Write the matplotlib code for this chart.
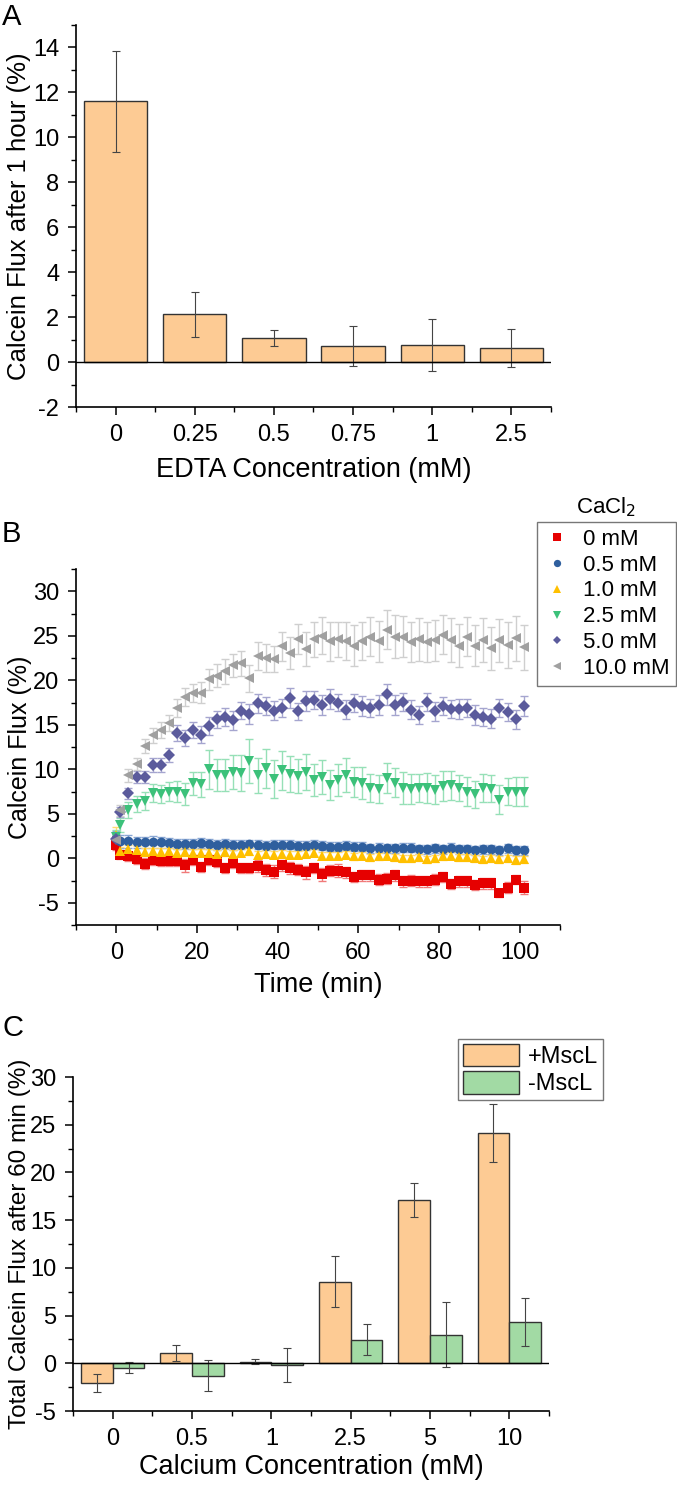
import matplotlib
matplotlib.use("Agg")
import matplotlib.pyplot as plt
from matplotlib.ticker import MultipleLocator

plt.rcParams['font.family'] = ['Liberation Sans', 'DejaVu Sans']
plt.rcParams['axes.unicode_minus'] = False

# ---- Panel A data ----
edta_labels = ['0', '0.25', '0.5', '0.75', '1', '2.5']
edta_flux = [11.6, 2.12, 1.07, 0.72, 0.77, 0.63]
edta_err = [2.25, 1.0, 0.35, 0.9, 1.15, 0.85]

# ---- Panel B data ----
time_min = [0, 1, 3, 5, 7, 9, 11, 13, 15, 17,
            19, 21, 23, 25, 27, 29, 31, 33, 35, 37,
            39, 41, 43, 45, 47, 49, 51, 53, 55, 57,
            59, 61, 63, 65, 67, 69, 71, 73, 75, 77,
            79, 81, 83, 85, 87, 89, 91, 93, 95, 97,
            99, 101]

ca_0 = [1.5, 0.4, 0.2, -0.1, -0.6, -0.2, -0.3, -0.3, -0.3, -0.8,
        -0.2, -1.0, -0.2, -0.4, -1.1, -0.5, -1.1, -1.1, -0.9, -1.3,
        -1.5, -0.8, -1.1, -1.3, -1.6, -1.1, -1.8, -1.4, -1.4, -1.6,
        -2.1, -1.9, -1.9, -2.4, -2.3, -1.9, -2.6, -2.5, -2.6, -2.6,
        -2.4, -2.1, -2.9, -2.6, -2.6, -3.0, -2.8, -2.8, -3.9, -3.3,
        -2.4, -3.3]
ca_0_err = [0.6, 0.5, 0.5, 0.5, 0.6, 0.6, 0.6, 0.6, 0.6, 0.7,
            0.6, 0.6, 0.6, 0.6, 0.6, 0.6, 0.6, 0.6, 0.7, 0.7,
            0.7, 0.6, 0.7, 0.6, 0.7, 0.6, 0.7, 0.6, 0.7, 0.6,
            0.6, 0.6, 0.6, 0.6, 0.6, 0.6, 0.6, 0.6, 0.6, 0.6,
            0.6, 0.6, 0.6, 0.6, 0.6, 0.6, 0.6, 0.6, 0.5, 0.6,
            0.5, 0.7]

ca_05 = [2.3, 1.9, 1.9, 1.8, 1.8, 1.8, 1.8, 1.7, 1.6, 1.6,
         1.6, 1.7, 1.6, 1.5, 1.6, 1.5, 1.5, 1.6, 1.5, 1.4,
         1.5, 1.5, 1.5, 1.4, 1.4, 1.5, 1.4, 1.3, 1.3, 1.4,
         1.3, 1.3, 1.1, 1.2, 1.1, 1.1, 1.2, 1.2, 1.0, 1.0,
         1.1, 1.0, 1.2, 1.0, 1.0, 0.9, 1.0, 1.0, 0.9, 1.1,
         0.9, 0.9]
ca_05_err = [0.8, 0.7, 0.7, 0.6, 0.6, 0.7, 0.6, 0.6, 0.6, 0.6,
             0.6, 0.6, 0.6, 0.6, 0.6, 0.6, 0.5, 0.5, 0.5, 0.5,
             0.5, 0.5, 0.5, 0.5, 0.5, 0.5, 0.5, 0.5, 0.5, 0.5,
             0.5, 0.5, 0.5, 0.5, 0.5, 0.5, 0.5, 0.5, 0.5, 0.5,
             0.5, 0.5, 0.5, 0.5, 0.5, 0.5, 0.5, 0.5, 0.5, 0.5,
             0.5, 0.5]

ca_1 = [2.6, 0.8, 1.0, 0.9, 0.7, 0.8, 0.7, 0.8, 0.6, 0.7,
        0.6, 0.6, 0.6, 0.5, 0.7, 0.5, 0.6, 0.8, 0.4, 0.5,
        0.4, 0.5, 0.4, 0.4, 0.5, 0.6, 0.3, 0.3, 0.3, 0.4,
        0.2, 0.3, 0.1, 0.2, 0.3, 0.1, 0.0, 0.0, 0.1, -0.1,
        0.0, 0.2, 0.3, 0.1, 0.1, 0.0, -0.1, 0.0, -0.1, 0.0,
        -0.2, -0.1]
ca_1_err = [0.9, 0.5, 0.5, 0.5, 0.4, 0.4, 0.4, 0.4, 0.4, 0.4,
            0.4, 0.4, 0.4, 0.4, 0.4, 0.4, 0.4, 0.4, 0.4, 0.4,
            0.4, 0.4, 0.4, 0.4, 0.4, 0.4, 0.4, 0.4, 0.4, 0.4,
            0.4, 0.4, 0.4, 0.4, 0.4, 0.4, 0.4, 0.4, 0.4, 0.4,
            0.4, 0.4, 0.4, 0.4, 0.4, 0.4, 0.4, 0.4, 0.4, 0.4,
            0.4, 0.4]

ca_25 = [2.4, 3.7, 5.4, 6.1, 6.4, 7.3, 7.2, 7.5, 7.5, 7.2,
         8.4, 8.3, 10.0, 9.4, 9.4, 9.7, 9.6, 10.9, 9.3, 10.1,
         8.9, 9.9, 9.5, 9.2, 9.7, 8.8, 9.1, 8.2, 8.8, 9.4,
         8.6, 8.5, 7.9, 7.8, 9.0, 8.5, 7.9, 7.8, 7.9, 7.9,
         7.7, 8.1, 8.2, 7.9, 7.5, 7.2, 7.9, 7.8, 6.6, 7.5,
         7.5, 7.5]
ca_25_err = [0.8, 0.8, 0.9, 0.9, 1.0, 1.0, 1.0, 1.1, 1.2, 1.2,
             1.3, 1.4, 2.2, 1.8, 1.8, 1.9, 2.0, 2.5, 2.0, 2.2,
             2.1, 2.2, 2.0, 1.9, 2.0, 1.8, 1.9, 1.7, 1.8, 1.9,
             1.7, 1.8, 1.6, 1.6, 1.7, 1.6, 1.8, 1.7, 1.6, 1.7,
             1.6, 1.7, 1.6, 1.5, 1.6, 1.5, 1.6, 1.5, 1.6, 1.5,
             1.6, 1.6]

ca_5 = [2.2, 5.2, 7.3, 9.1, 9.1, 10.5, 10.5, 11.6, 14.1, 13.5,
        14.4, 13.9, 14.9, 15.6, 15.9, 15.5, 16.6, 16.2, 17.4, 17.1,
        16.6, 16.9, 18.0, 16.5, 17.7, 17.8, 17.2, 17.9, 17.5, 16.7,
        17.4, 17.1, 16.9, 17.2, 18.4, 17.2, 17.6, 16.7, 16.1, 17.6,
        16.5, 17.1, 16.8, 16.8, 16.9, 16.1, 15.9, 15.7, 16.9, 16.4,
        15.6, 17.1]
ca_5_err = [0.5, 0.6, 0.6, 0.7, 0.7, 0.8, 0.8, 0.8, 0.9, 0.9,
            0.9, 1.0, 1.0, 1.0, 1.0, 1.1, 1.0, 1.1, 1.1, 1.0,
            1.1, 1.0, 1.1, 1.0, 1.1, 1.0, 1.1, 1.1, 1.0, 1.1,
            1.0, 1.1, 1.0, 1.1, 1.2, 1.1, 1.0, 1.1, 1.0, 1.0,
            1.1, 1.0, 1.0, 1.1, 1.0, 1.1, 1.0, 1.1, 1.0, 1.0,
            1.1, 1.1]

ca_10 = [2.0, 5.4, 9.3, 10.6, 12.6, 13.8, 14.4, 15.2, 16.9, 18.1,
         18.6, 18.6, 20.1, 20.5, 21.0, 21.7, 21.9, 20.2, 22.7, 22.5,
         22.4, 23.8, 23.1, 24.6, 23.5, 24.6, 25.0, 24.4, 24.6, 24.4,
         23.9, 24.4, 24.9, 24.4, 25.7, 24.9, 24.9, 24.3, 24.6, 24.3,
         24.5, 25.1, 24.5, 23.9, 24.9, 23.9, 24.5, 23.6, 24.5, 24.0,
         24.7, 23.7]
ca_10_err = [0.5, 0.6, 0.7, 0.7, 0.8, 0.8, 0.9, 0.9, 1.0, 1.0,
             1.0, 1.2, 1.2, 1.3, 1.4, 1.3, 1.4, 1.5, 1.6, 1.6,
             1.5, 1.6, 1.8, 1.7, 1.9, 2.0, 2.1, 2.2, 2.0, 2.1,
             2.3, 2.1, 2.2, 2.3, 2.2, 2.4, 2.3, 2.2, 2.4, 2.3,
             2.3, 2.2, 2.5, 2.4, 2.2, 2.3, 2.5, 2.4, 2.4, 2.6,
             2.5, 2.5]

series_labels = ['0 mM', '0.5 mM', '1.0 mM', '2.5 mM', '5.0 mM', '10.0 mM']

# ---- Panel C data ----
ca_labels = ['0', '0.5', '1', '2.5', '5', '10']
plus_mscl = [-2.1, 1.05, 0.18, 8.57, 17.13, 24.1]
plus_mscl_err = [0.95, 0.85, 0.3, 2.67, 1.8, 3.05]
minus_mscl = [-0.45, -1.3, -0.17, 2.48, 3.0, 4.3]
minus_mscl_err = [0.6, 1.6, 1.77, 1.63, 3.4, 2.5]

ORANGE = '#FDCB94'
GREEN = '#A2DAA4'
W, H = 677, 1504

fig = plt.figure(figsize=(6.77, 15.04), dpi=100)


def axes_px(left, top, right, bottom):
    return fig.add_axes([left / W, 1 - bottom / H, (right - left) / W, (bottom - top) / H])


def style(ax):
    for s in ['top', 'right']:
        ax.spines[s].set_visible(False)
    for s in ['left', 'bottom']:
        ax.spines[s].set_linewidth(1.2)
    ax.tick_params(which='major', direction='out', length=6, width=1.1, labelsize=17, pad=6)
    ax.tick_params(which='minor', direction='out', length=3.5, width=1.0)


# Panel A
axA = axes_px(76, 25, 551, 407)
xs = range(len(edta_labels))
axA.bar(xs, edta_flux, width=0.8, color=ORANGE, edgecolor='#333333', linewidth=1.0, zorder=2)
axA.errorbar(xs, edta_flux, yerr=edta_err, fmt='none', ecolor='#444444', elinewidth=0.8,
             capsize=3, capthick=0.8, zorder=3)
axA.axhline(0, color='black', linewidth=1.0, zorder=4)
axA.set_xlim(-0.5, 5.5)
axA.set_ylim(-2, 15)
axA.set_xticks(list(xs))
axA.set_xticklabels(edta_labels)
axA.xaxis.set_minor_locator(MultipleLocator(0.5))
axA.yaxis.set_major_locator(MultipleLocator(2))
axA.yaxis.set_minor_locator(MultipleLocator(1))
style(axA)
axA.set_ylabel('Calcein Flux after 1 hour (%)', fontsize=18.5)
axA.set_xlabel('EDTA Concentration (mM)', fontsize=19.5)
axA.yaxis.set_label_coords(-0.119, 0.5)
axA.yaxis.label.set_va('center')
axA.xaxis.set_label_coords(0.5, -0.165)
axA.xaxis.label.set_va('center')
fig.text(2 / W, 1 - 17 / H, 'A', fontsize=21, va='center', ha='left')

# Panel B
axB = axes_px(76, 569, 560, 925)
series = [
    (ca_0, ca_0_err, 's', '#E60000', '#F07A7A'),
    (ca_05, ca_05_err, 'o', '#2F5F9E', '#89A6D3'),
    (ca_1, ca_1_err, '^', '#FFC000', '#FFDA70'),
    (ca_25, ca_25_err, 'v', '#3CC17A', '#96E0B7'),
    (ca_5, ca_5_err, 'D', '#5B5B9C', '#A5A5CF'),
    (ca_10, ca_10_err, '<', '#A0A0A0', '#CFCFCF'),
]
handles = []
for (vals, errs, mk, col, ecol), lab in zip(series, series_labels):
    ms = 6.0 if mk == 'D' else 7.0
    axB.errorbar(time_min, vals, yerr=errs, fmt='none', ecolor=ecol, elinewidth=1.0,
                 capsize=3, capthick=1.0, zorder=2)
    h, = axB.plot(time_min, vals, linestyle='none', marker=mk, markersize=ms,
                  color=col, markeredgewidth=0, label=lab, zorder=3)
    handles.append(h)
axB.set_xlim(-10, 110)
axB.set_ylim(-7.5, 32.5)
axB.xaxis.set_major_locator(MultipleLocator(20))
axB.xaxis.set_minor_locator(MultipleLocator(10))
axB.yaxis.set_major_locator(MultipleLocator(5))
axB.yaxis.set_minor_locator(MultipleLocator(2.5))
style(axB)
axB.set_ylabel('Calcein Flux (%)', fontsize=18)
axB.set_xlabel('Time (min)', fontsize=19.5)
axB.yaxis.set_label_coords(-0.116, 0.5)
axB.yaxis.label.set_va('center')
axB.xaxis.set_label_coords(0.5, -0.168)
axB.xaxis.label.set_va('center')
fig.text(2 / W, 1 - 534 / H, 'B', fontsize=21, va='center', ha='left')
legB = fig.legend(handles=handles, loc='upper left', bbox_to_anchor=(537 / W, 1 - 522 / H),
                  borderaxespad=0, frameon=True, fancybox=False, edgecolor='#555555',
                  fontsize=16, handletextpad=0.55, labelspacing=0.22, borderpad=0.3,
                  handlelength=1.2, markerscale=0.75)
legB.get_frame().set_linewidth(1.0)
fig.text(606 / W, 1 - 507 / H, 'CaCl$_2$', fontsize=16, ha='center', va='center')

# Panel C
axC = axes_px(73, 1077, 549, 1411)
xc = list(range(len(ca_labels)))
bw = 0.4
xp = [x - bw / 2 for x in xc]
xm = [x + bw / 2 for x in xc]
b1 = axC.bar(xp, plus_mscl, width=bw, color=ORANGE, edgecolor='#333333', linewidth=1.0,
             label='+MscL', zorder=2)
b2 = axC.bar(xm, minus_mscl, width=bw, color=GREEN, edgecolor='#333333', linewidth=1.0,
             label='-MscL', zorder=2)
axC.errorbar(xp, plus_mscl, yerr=plus_mscl_err, fmt='none', ecolor='#444444', elinewidth=0.8,
             capsize=3, capthick=0.8, zorder=3)
axC.errorbar(xm, minus_mscl, yerr=minus_mscl_err, fmt='none', ecolor='#444444', elinewidth=0.8,
             capsize=3, capthick=0.8, zorder=3)
axC.axhline(0, color='black', linewidth=1.0, zorder=4)
axC.set_xlim(-0.5, 5.5)
axC.set_ylim(-5, 30)
axC.set_xticks(xc)
axC.set_xticklabels(ca_labels)
axC.xaxis.set_minor_locator(MultipleLocator(0.5))
axC.yaxis.set_major_locator(MultipleLocator(5))
axC.yaxis.set_minor_locator(MultipleLocator(2.5))
style(axC)
axC.set_ylabel('Total Calcein Flux after 60 min (%)', fontsize=17.5)
axC.set_xlabel('Calcium Concentration (mM)', fontsize=19.5)
axC.yaxis.set_label_coords(-0.111, 0.5)
axC.yaxis.label.set_va('center')
axC.xaxis.set_label_coords(0.5, -0.168)
axC.xaxis.label.set_va('center')
fig.text(2 / W, 1 - 1028 / H, 'C', fontsize=21, va='center', ha='left')
legC = axC.legend(handles=[b1, b2], loc='upper left', bbox_to_anchor=(458 / W, 1 - 1039 / H),
                  bbox_transform=fig.transFigure, borderaxespad=0, frameon=True, fancybox=False,
                  edgecolor='#555555', fontsize=17, handlelength=2.4, handleheight=1.1,
                  handletextpad=0.35, labelspacing=0.12, borderpad=0.2)
legC.get_frame().set_linewidth(1.0)

fig.savefig('out.png', dpi=100)
